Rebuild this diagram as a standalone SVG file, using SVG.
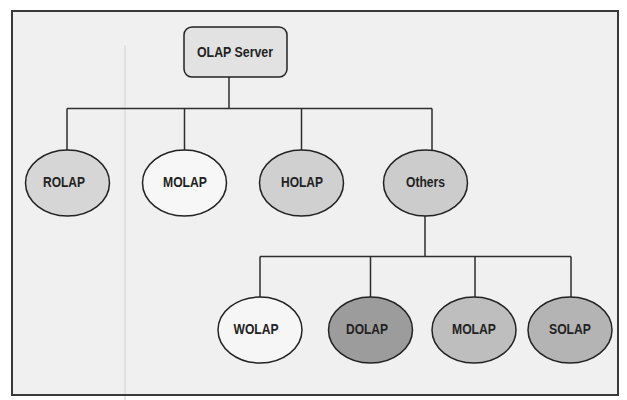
<svg xmlns="http://www.w3.org/2000/svg" width="627" height="400" viewBox="0 0 627 400">
<defs>
<style>
.edge{stroke:#2e2e2e;stroke-width:1.5;fill:none;}
.node ellipse,.node rect{stroke:#222;stroke-width:1.5;}
.lbl{font-family:"Liberation Sans",Arial,sans-serif;font-weight:bold;font-size:14px;fill:#222;text-anchor:middle;}
</style>
</defs>
<rect width="627" height="400" fill="#ffffff"/>
<g id="background">
<rect x="12" y="11" width="606" height="384" fill="#f0f0f0"/>
<line x1="125" y1="45" x2="125" y2="400" stroke="#dcdcdc" stroke-width="1.5"/>
<rect x="12" y="11" width="606" height="384" fill="none" stroke="#3a3a3a" stroke-width="2"/>
</g>
<g id="connectors">
<path class="edge" d="M229 77V108.5 M67 108.5H432 M67 108.5V150 M184.5 108.5V150 M301.5 108.5V150 M432 108.5V151 M425 216V256.5 M260 256.5H571 M260 256.5V297 M370.5 256.5V297 M475 256.5V297 M571 256.5V297"/>
</g>
<g id="olap-server" class="node">
<rect x="184" y="27" width="103" height="50" rx="8" fill="#e2e2e2"/>
<text class="lbl" x="235" y="57" textLength="76" lengthAdjust="spacingAndGlyphs">OLAP Server</text>
</g>
<g id="rolap" class="node">
<ellipse cx="67.5" cy="183" rx="42" ry="33" fill="#d6d6d6"/>
<text class="lbl" x="64" y="187" textLength="42" lengthAdjust="spacingAndGlyphs">ROLAP</text>
</g>
<g id="molap" class="node">
<ellipse cx="184.5" cy="183" rx="42" ry="33" fill="#f7f7f7"/>
<text class="lbl" x="185" y="187" textLength="44" lengthAdjust="spacingAndGlyphs">MOLAP</text>
</g>
<g id="holap" class="node">
<ellipse cx="301.5" cy="183" rx="42" ry="33" fill="#d0d0d0"/>
<text class="lbl" x="302" y="187" textLength="42" lengthAdjust="spacingAndGlyphs">HOLAP</text>
</g>
<g id="others" class="node">
<ellipse cx="425.5" cy="183" rx="42" ry="33" fill="#cccccc"/>
<text class="lbl" x="425.5" y="187" textLength="39" lengthAdjust="spacingAndGlyphs">Others</text>
</g>
<g id="wolap" class="node">
<ellipse cx="260" cy="330" rx="42" ry="33" fill="#f6f6f6"/>
<text class="lbl" x="256" y="334" textLength="45" lengthAdjust="spacingAndGlyphs">WOLAP</text>
</g>
<g id="dolap" class="node">
<ellipse cx="370.5" cy="330" rx="42" ry="33" fill="#9c9c9c"/>
<text class="lbl" x="367" y="334" textLength="42" lengthAdjust="spacingAndGlyphs">DOLAP</text>
</g>
<g id="molap-2" class="node">
<ellipse cx="474" cy="330" rx="42" ry="33" fill="#bebebe"/>
<text class="lbl" x="474" y="334" textLength="44" lengthAdjust="spacingAndGlyphs">MOLAP</text>
</g>
<g id="solap" class="node">
<ellipse cx="570" cy="330" rx="42" ry="33" fill="#b4b4b4"/>
<text class="lbl" x="570" y="334" textLength="42" lengthAdjust="spacingAndGlyphs">SOLAP</text>
</g>
</svg>
